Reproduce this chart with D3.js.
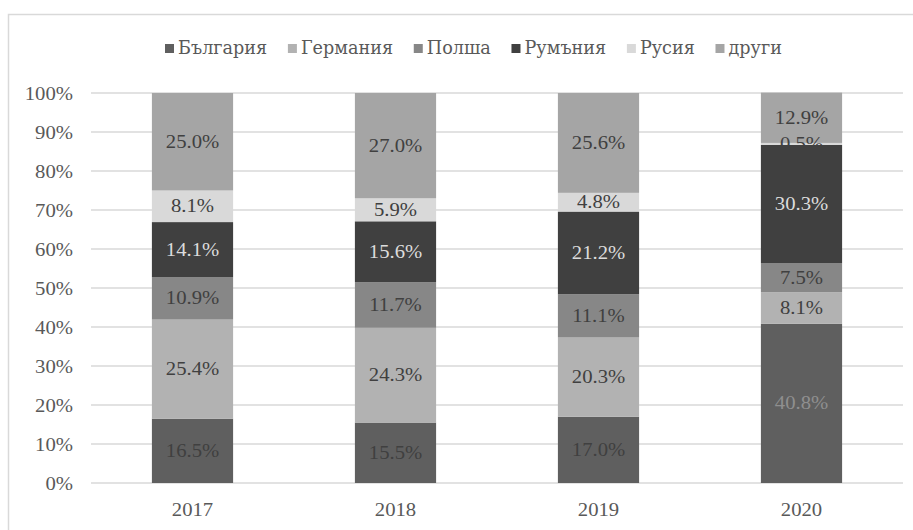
<!DOCTYPE html>
<html>
<head>
<meta charset="utf-8">
<script src="https://cdn.jsdelivr.net/npm/d3@7"></script>
<style>
  html, body { margin: 0; padding: 0; background: #fff; }
  svg { display: block; }
  text { font-family: "Liberation Serif", "DejaVu Serif", "Times New Roman", serif; }
  text.cyr { font-family: "DejaVu Serif", "Liberation Serif", serif; }
</style>
</head>
<body>
<svg id="chart" width="913" height="530"></svg>
<script>
// ---- data ----
const years = ["2017", "2018", "2019", "2020"];
const seriesNames = ["България", "Германия", "Полша", "Румъния", "Русия", "други"];
const bulgaria = [16.5, 15.5, 17.0, 40.8];
const germany  = [25.4, 24.3, 20.3, 8.1];
const poland   = [10.9, 11.7, 11.1, 7.5];
const romania  = [14.1, 15.6, 21.2, 30.3];
const russia   = [8.1, 5.9, 4.8, 0.5];
const others   = [25.0, 27.0, 25.6, 12.9];
const yTicks = [0, 10, 20, 30, 40, 50, 60, 70, 80, 90, 100];

// ---- styles ----
const colors = ["#5f5f5f", "#b2b2b2", "#878787", "#404040", "#d9d9d9", "#a5a5a5"];
const labelColors = ["#404040", "#404040", "#404040", "#dcdcdc", "#404040", "#404040"];
const SX = 1.15; // horizontal text stretch of the reference
const FONT = 18;

const seriesValues = [bulgaria, germany, poland, romania, russia, others];
const table = years.map((yr, i) => {
  const row = { year: yr };
  seriesNames.forEach((s, k) => row[s] = seriesValues[k][i]);
  return row;
});

const svg = d3.select("#chart");
const margin = { left: 91, right: 10, top: 93, bottom: 47 };
const W = 913, H = 530;

// outer border
svg.append("rect")
  .attr("x", 8.5).attr("y", 14.5)
  .attr("width", 940).attr("height", 560)
  .attr("fill", "none").attr("stroke", "#d9d9d9").attr("stroke-width", 1.5);

const x = d3.scaleBand().domain(years)
  .range([margin.left, W - margin.right])
  .paddingInner(0.6).paddingOuter(0.3);
const y = d3.scaleLinear().domain([0, 100]).range([H - margin.bottom, margin.top]);

function stretchedText(sel, tx, ty, anchor, sx) {
  return sel.attr("transform", `translate(${tx},${ty}) scale(${sx || SX},1)`)
    .attr("text-anchor", anchor);
}

// gridlines
svg.append("g").selectAll("line").data(yTicks).join("line")
  .attr("x1", margin.left).attr("x2", W - margin.right)
  .attr("y1", d => y(d)).attr("y2", d => y(d))
  .attr("stroke", "#d9d9d9").attr("stroke-width", 1.5);

// y tick labels
svg.append("g").selectAll("text").data(yTicks).join("text")
  .each(function(d) { stretchedText(d3.select(this), 73, y(d) + 7, "end"); })
  .attr("font-size", FONT).attr("fill", "#595959")
  .text(d => d + "%");

// stacked bars
const stack = d3.stack().keys(seriesNames);
const stacked = stack(table);

const layers = svg.append("g").selectAll("g").data(stacked).join("g")
  .attr("fill", (d, i) => colors[i]);
layers.selectAll("rect").data(d => d).join("rect")
  .attr("x", d => x(d.data.year))
  .attr("width", x.bandwidth())
  .attr("y", d => y(d[1]))
  .attr("height", d => y(d[0]) - y(d[1]));

// data labels
const labG = svg.append("g");
stacked.forEach((layer, i) => {
  labG.append("g").selectAll("text").data(layer).join("text")
    .each(function(d) {
      stretchedText(d3.select(this), x(d.data.year) + x.bandwidth() / 2,
        (y(d[0]) + y(d[1])) / 2 + 6, "middle");
    })
    .attr("font-size", FONT)
    .attr("fill", d => (i === 0 && d.data.year === "2020") ? "#8f8f8f" : labelColors[i])
    .text(d => d3.format(".1f")(d.data[layer.key]) + "%");
});

// x labels
svg.append("g").selectAll("text").data(years).join("text")
  .each(function(d) { stretchedText(d3.select(this), x(d) + x.bandwidth() / 2, 516, "middle"); })
  .attr("font-size", FONT).attr("fill", "#595959")
  .text(d => d);

// legend
const leg = svg.append("g");
const items = leg.selectAll("g").data(seriesNames).join("g");
items.append("rect").attr("width", 9).attr("height", 9).attr("y", 44)
  .attr("fill", (d, i) => colors[i]);
items.append("text").attr("class", "cyr")
  .attr("font-size", FONT).attr("fill", "#595959")
  .text(d => d);
const rawW = [];
items.each(function() {
  rawW.push(d3.select(this).select("text").node().getComputedTextLength());
});
const targetTextTotal = 436;
const lsx = targetTextTotal / d3.sum(rawW);
const widths = rawW.map(w => 13 + w * lsx);
const legStart = 165, legEnd = 782;
const gap = (legEnd - legStart - d3.sum(widths)) / (seriesNames.length - 1);
let cx = legStart;
items.each(function(d, i) {
  const g = d3.select(this);
  g.select("rect").attr("x", cx);
  stretchedText(g.select("text"), cx + 13, 54, "start", lsx);
  cx += widths[i] + gap;
});
</script>
</body>
</html>
